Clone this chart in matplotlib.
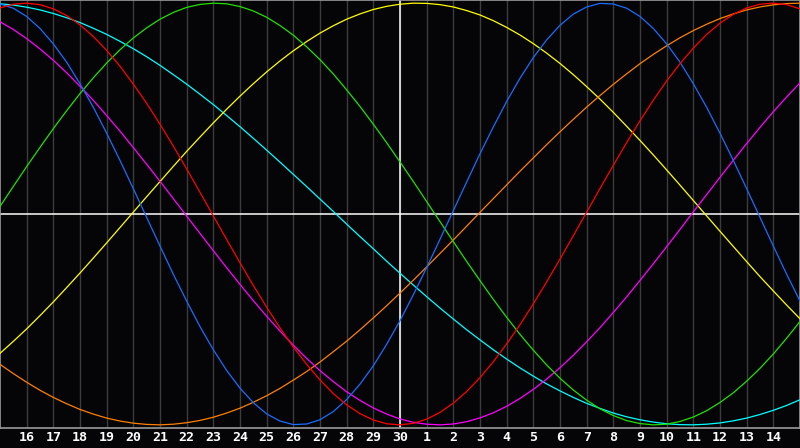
import numpy as np
import matplotlib.pyplot as plt

# day labels along the bottom (day 15 at left edge .. day 15 next month at right edge)
day_labels = ['16', '17', '18', '19', '20', '21', '22', '23', '24', '25', '26', '27', '28', '29', '30',
              '1', '2', '3', '4', '5', '6', '7', '8', '9', '10', '11', '12', '13', '14']

# values every half day (61 points: day 15 .. day 15)
physical = [0.996, 0.976, 0.937, 0.880, 0.807, 0.720, 0.618, 0.506, 0.383, 0.254,
            0.120, -0.016, -0.152, -0.286, -0.413, -0.534, -0.644, -0.742, -0.826, -0.895,
            -0.948, -0.982, -0.999, -0.996, -0.976, -0.937, -0.880, -0.807, -0.720, -0.618,
            -0.506, -0.383, -0.254, -0.120, 0.016, 0.152, 0.286, 0.413, 0.534, 0.644,
            0.742, 0.826, 0.895, 0.948, 0.982, 0.999, 0.996, 0.976, 0.937, 0.880,
            0.807, 0.720, 0.618, 0.506, 0.383, 0.254, 0.120, -0.016, -0.152, -0.286,
            -0.413]
emotional = [0.977, 0.995, 1.000, 0.993, 0.973, 0.941, 0.897, 0.842, 0.776, 0.701,
             0.616, 0.525, 0.426, 0.322, 0.214, 0.103, -0.009, -0.121, -0.231, -0.339,
             -0.442, -0.540, -0.631, -0.713, -0.787, -0.852, -0.905, -0.947, -0.977, -0.995,
             -1.000, -0.993, -0.973, -0.941, -0.897, -0.842, -0.776, -0.701, -0.616, -0.525,
             -0.426, -0.322, -0.214, -0.103, 0.009, 0.121, 0.231, 0.339, 0.442, 0.540,
             0.631, 0.713, 0.787, 0.852, 0.905, 0.947, 0.977, 0.995, 1.000, 0.993,
             0.973]
intellectual = [0.036, 0.131, 0.225, 0.316, 0.405, 0.490, 0.571, 0.646, 0.716, 0.779,
                0.835, 0.883, 0.924, 0.956, 0.980, 0.994, 1.000, 0.997, 0.984, 0.963,
                0.933, 0.894, 0.848, 0.793, 0.732, 0.664, 0.589, 0.510, 0.426, 0.338,
                0.247, 0.154, 0.059, -0.036, -0.131, -0.225, -0.316, -0.405, -0.490, -0.571,
                -0.646, -0.716, -0.779, -0.835, -0.883, -0.924, -0.956, -0.980, -0.994, -1.000,
                -0.997, -0.984, -0.963, -0.933, -0.894, -0.848, -0.793, -0.732, -0.664, -0.589,
                -0.510]
intuitive = [0.912, 0.875, 0.832, 0.783, 0.729, 0.670, 0.606, 0.539, 0.467, 0.393,
             0.315, 0.236, 0.155, 0.073, -0.010, -0.092, -0.174, -0.255, -0.334, -0.411,
             -0.485, -0.555, -0.622, -0.685, -0.743, -0.795, -0.843, -0.884, -0.920, -0.949,
             -0.972, -0.988, -0.997, -1.000, -0.996, -0.985, -0.967, -0.943, -0.912, -0.875,
             -0.832, -0.783, -0.729, -0.670, -0.606, -0.539, -0.467, -0.393, -0.315, -0.236,
             -0.155, -0.073, 0.010, 0.092, 0.174, 0.255, 0.334, 0.411, 0.485, 0.555,
             0.622]
aesthetic = [-0.661, -0.604, -0.545, -0.482, -0.417, -0.349, -0.280, -0.209, -0.137, -0.064,
             0.009, 0.082, 0.154, 0.226, 0.297, 0.365, 0.432, 0.497, 0.559, 0.618,
             0.674, 0.726, 0.774, 0.818, 0.858, 0.893, 0.924, 0.949, 0.970, 0.985,
             0.995, 1.000, 0.999, 0.993, 0.982, 0.965, 0.944, 0.917, 0.885, 0.849,
             0.808, 0.763, 0.714, 0.661, 0.604, 0.545, 0.482, 0.416, 0.349, 0.280,
             0.209, 0.137, 0.064, -0.009, -0.082, -0.154, -0.226, -0.297, -0.365, -0.432,
             -0.497]
awareness = [-0.713, -0.757, -0.798, -0.836, -0.870, -0.900, -0.927, -0.949, -0.968, -0.982,
             -0.992, -0.998, -1.000, -0.997, -0.990, -0.979, -0.964, -0.944, -0.921, -0.893,
             -0.862, -0.827, -0.788, -0.747, -0.702, -0.653, -0.603, -0.549, -0.493, -0.435,
             -0.375, -0.314, -0.251, -0.187, -0.123, -0.058, 0.008, 0.073, 0.138, 0.203,
             0.266, 0.329, 0.390, 0.449, 0.507, 0.562, 0.615, 0.665, 0.713, 0.757,
             0.798, 0.836, 0.870, 0.900, 0.927, 0.949, 0.968, 0.982, 0.992, 0.998,
             1.000]
spiritual = [0.997, 0.991, 0.981, 0.968, 0.951, 0.931, 0.908, 0.881, 0.852, 0.819,
             0.784, 0.746, 0.705, 0.661, 0.616, 0.568, 0.519, 0.467, 0.414, 0.359,
             0.303, 0.246, 0.188, 0.130, 0.071, 0.012, -0.048, -0.107, -0.165, -0.224,
             -0.281, -0.337, -0.392, -0.446, -0.498, -0.549, -0.597, -0.644, -0.688, -0.730,
             -0.769, -0.806, -0.839, -0.870, -0.898, -0.922, -0.944, -0.962, -0.976, -0.987,
             -0.995, -0.999, -1.000, -0.997, -0.991, -0.981, -0.968, -0.951, -0.931, -0.908,
             -0.881]

series = [
    (spiritual, '#00ffff'),
    (aesthetic, '#ffff00'),
    (awareness, '#ff8000'),
    (intuitive, '#ff00ff'),
    (intellectual, '#22e000'),
    (physical, '#1a6cff'),
    (emotional, '#ff0000'),
]

fig = plt.figure(figsize=(8, 4.48), dpi=100)
fig.patch.set_facecolor('#050508')
ax = fig.add_axes([0, 20 / 448, 1, 428 / 448])
ax.set_facecolor('#050508')

days = np.arange(len(physical)) / 2
ax.set_xlim(0, 30)
ax.set_ylim(-1.015, 1.015)

# day grid
for d in range(1, 30):
    ax.axvline(d, color='#3c3c3c', lw=1, zorder=1)
ax.axvline(15, color='white', lw=1.1, zorder=2)
ax.axhline(0, color='white', lw=1.1, zorder=2)

for vals, col in series:
    ax.plot(days, vals, color=col, lw=0.9, zorder=3)

ax.set_xticks(range(1, 30))
ax.set_xticklabels(day_labels, color='white', fontsize=9.5, fontweight='bold',
                   family='DejaVu Sans Mono')
ax.tick_params(axis='x', length=0, pad=2)
ax.set_yticks([])
for sp in ax.spines.values():
    sp.set_color('#9a9a9a')
    sp.set_linewidth(1.2)

fig.savefig('out.png', dpi=100, facecolor=fig.get_facecolor())
